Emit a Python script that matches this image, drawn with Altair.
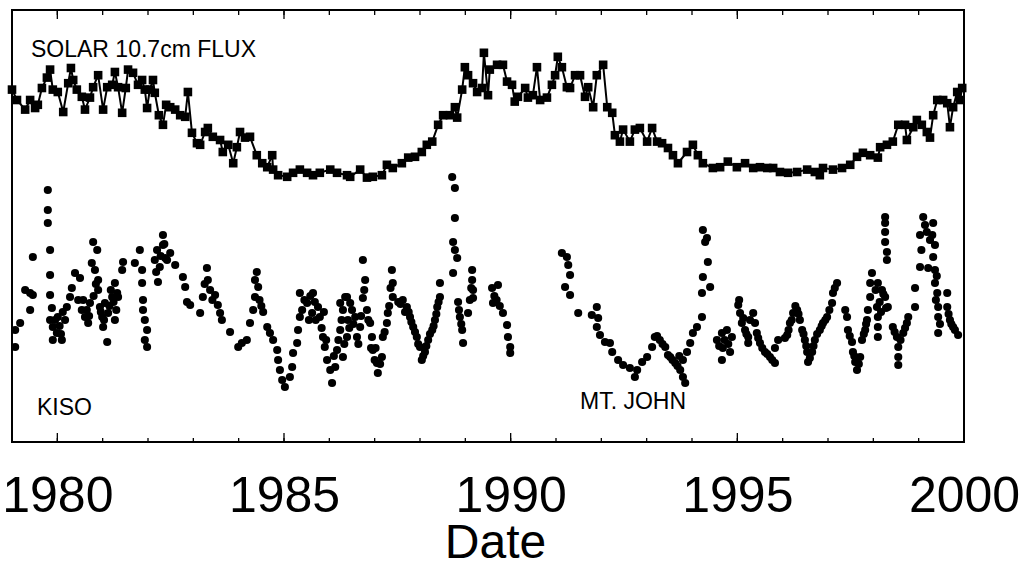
import altair as alt
import pandas as pd

# ---------------- data ----------------
flux_year = [
    1979.00, 1979.11, 1979.29, 1979.40, 1979.51, 1979.57, 1979.66, 1979.77, 1979.84, 1979.90,
    1980.01, 1980.13, 1980.24, 1980.30, 1980.35, 1980.43, 1980.54, 1980.61, 1980.72, 1980.79, 1980.90,
    1981.01, 1981.10, 1981.21, 1981.27, 1981.34, 1981.43, 1981.51, 1981.56, 1981.67, 1981.78, 1981.87, 1981.93, 1981.98,
    1982.04, 1982.11, 1982.15, 1982.24, 1982.33, 1982.40, 1982.49, 1982.60, 1982.71, 1982.82, 1982.88, 1982.97,
    1983.08, 1983.15, 1983.26, 1983.32, 1983.43, 1983.59, 1983.65, 1983.77, 1983.88, 1983.96,
    1984.03, 1984.14, 1984.25, 1984.40, 1984.52, 1984.63, 1984.74, 1984.76, 1984.87,
    1985.07, 1985.20, 1985.35, 1985.51, 1985.64, 1985.79,
    1986.02, 1986.17, 1986.39, 1986.46, 1986.68, 1986.83, 1986.96,
    1987.16, 1987.27, 1987.40, 1987.60, 1987.74, 1987.89,
    1988.04, 1988.15, 1988.27, 1988.40, 1988.51, 1988.66, 1988.77, 1988.82, 1988.93, 1988.99,
    1989.06, 1989.17, 1989.26, 1989.37, 1989.41, 1989.50, 1989.54, 1989.70, 1989.83, 1989.92,
    1990.03, 1990.09, 1990.16, 1990.32, 1990.38, 1990.49, 1990.58, 1990.65, 1990.80, 1990.91, 1990.98,
    1991.04, 1991.13, 1991.24, 1991.31, 1991.42, 1991.53, 1991.64, 1991.71, 1991.82, 1991.90,
    1992.04, 1992.13, 1992.24, 1992.30, 1992.41, 1992.48, 1992.63, 1992.74, 1992.85,
    1993.01, 1993.12, 1993.23, 1993.34, 1993.47, 1993.58, 1993.69, 1993.89,
    1994.02, 1994.13, 1994.24, 1994.46, 1994.62, 1994.79, 1994.99,
    1995.17, 1995.35, 1995.50, 1995.66, 1995.79, 1995.94,
    1996.12, 1996.32, 1996.54, 1996.71, 1996.82, 1996.89,
    1997.11, 1997.31, 1997.49, 1997.64, 1997.77, 1997.93,
    1998.10, 1998.15, 1998.30, 1998.43, 1998.55, 1998.70, 1998.74, 1998.88, 1998.96,
    1999.07, 1999.18, 1999.25, 1999.32, 1999.41, 1999.54, 1999.63, 1999.69, 1999.76, 1999.85, 1999.91, 1999.96,
]
flux_sfu = [
    178, 165, 153, 165, 155, 159, 180, 193, 203, 178,
    175, 150, 186, 205, 190, 178, 169, 153, 168, 181, 196,
    153, 181, 184, 200, 181, 149, 180, 203, 199, 184, 190, 178, 155,
    178, 190, 174, 146, 134, 159, 156, 153, 146, 144, 175, 124,
    111, 109, 125, 130, 119, 115, 100, 109, 86, 106,
    125, 118, 119, 96, 86, 81, 96, 78, 71,
    69, 74, 78, 74, 71, 74,
    78, 74, 71, 69, 78, 68, 69,
    71, 84, 80, 86, 93, 94,
    100, 109, 113, 134, 146, 146, 156, 143, 178, 206,
    196, 186, 175, 180, 224, 171, 203, 209, 209, 188,
    184, 163, 169, 180, 168, 171, 206, 165, 168, 184, 196,
    219, 206, 181, 180, 196, 196, 169, 181, 156, 196,
    209, 156, 149, 121, 113, 128, 113, 128, 130,
    113, 130, 113, 111, 105, 96, 86, 100,
    109, 96, 86, 80, 81, 88, 81,
    86, 80, 81, 80, 80, 75,
    74, 75, 78, 75, 71, 80,
    78, 80, 84, 94, 99, 96,
    93, 106, 109, 113, 134, 134, 115, 131, 140,
    134, 125, 118, 146, 165, 165, 161, 131, 156, 175, 165, 180,
]

# sky brightness (relative units): (year, value)
kiso_points = [
    (1979.07, 35), (1979.07, 26.5), (1979.18, 38.5), (1979.29, 55), (1979.40, 53.5), (1979.46, 52.5),
    (1979.40, 45), (1979.46, 71.5), (1979.79, 105), (1979.79, 95), (1979.79, 88.5), (1979.84, 75),
    (1979.84, 62.5), (1979.84, 52.5), (1979.88, 46), (1979.84, 40), (1979.90, 36.5), (1979.99, 33.5),
    (1980.10, 30), (1980.01, 41.5), (1980.17, 40), (1980.21, 46.5), (1980.28, 51.5), (1980.32, 56),
    (1980.39, 63.5), (1980.50, 61), (1980.46, 50), (1980.54, 45), (1980.61, 41.5), (1980.68, 38.5),
    (1980.72, 48.5), (1980.76, 68.5), (1980.79, 79), (1980.88, 75), (1980.83, 65), (1980.90, 60),
    (1980.90, 55), (1980.94, 46.5), (1980.99, 41.5), (1981.01, 36.5), (1981.10, 29), (1981.05, 48.5),
    (1981.12, 43.5), (1981.21, 51.5), (1981.27, 58.5), (1981.32, 53.5), (1981.27, 40), (1981.34, 51.5),
    (1981.43, 65), (1981.45, 69), (1981.71, 68.5), (1981.82, 75), (1981.87, 65), (1981.87, 58.5),
    (1981.89, 50), (1981.89, 45), (1981.93, 40), (1981.98, 35), (1981.98, 26.5), (1981.93, 30),
    (1982.15, 70), (1982.20, 75), (1982.26, 66.5), (1982.22, 59), (1982.33, 82.5), (1982.33, 77.5),
    (1982.38, 71), (1982.49, 73.5), (1982.60, 67.5), (1982.77, 61.5), (1982.82, 56.5), (1982.86, 49),
    (1982.93, 47.5), (1983.15, 43.5), (1983.21, 51.5), (1983.30, 66), (1983.32, 60), (1983.37, 55),
    (1983.48, 52.5), (1983.54, 47.5), (1983.59, 43.5), (1983.63, 40), (1983.81, 34), (1983.99, 26.5),
    (1984.07, 28.5), (1984.18, 30), (1984.25, 38.5), (1984.32, 45), (1984.36, 51.5), (1984.36, 60),
    (1984.40, 64), (1984.43, 56.5), (1984.54, 44), (1984.63, 36.5), (1984.69, 33.5), (1984.76, 30),
    (1984.85, 25), (1984.87, 20), (1984.91, 15), (1984.96, 10), (1985.02, 6.5), (1985.13, 11.5),
    (1985.18, 16.5), (1985.20, 23.5), (1985.29, 28.5), (1985.31, 35), (1985.35, 41.5), (1985.35, 53.5),
    (1985.51, 48.5), (1985.62, 43.5), (1985.64, 53.5), (1985.75, 46.5), (1985.79, 41.5), (1985.86, 31.5),
    (1985.90, 26.5), (1985.95, 20), (1986.02, 15), (1986.06, 8.5), (1986.13, 16.5), (1986.17, 25),
    (1986.24, 35), (1986.30, 45), (1986.39, 51.5), (1986.24, 48.5), (1986.35, 51.5), (1986.46, 48.5),
    (1986.41, 40), (1986.39, 31.5), (1986.30, 21.5), (1986.57, 41.5), (1986.61, 31.5), (1986.68, 36.5),
    (1986.74, 51), (1986.74, 70), (1986.79, 60), (1986.83, 45), (1986.90, 38.5), (1986.94, 31.5),
    (1986.96, 25), (1987.05, 18.5), (1987.07, 13.5), (1987.16, 21.5), (1987.18, 31.5), (1987.27, 38.5),
    (1987.29, 43.5), (1987.38, 65), (1987.40, 58.5), (1987.40, 51.5), (1987.52, 49), (1987.71, 46.5),
    (1987.78, 41.5), (1987.85, 36.5), (1987.93, 31.5), (1988.00, 26.5), (1988.04, 20), (1988.11, 24),
    (1988.18, 30), (1988.27, 35), (1988.33, 40), (1988.38, 46.5), (1988.44, 51.5), (1988.44, 58.5),
    (1988.71, 111.5), (1988.77, 106), (1988.77, 91), (1988.73, 79), (1988.77, 75), (1988.82, 71),
    (1988.73, 63.5), (1988.84, 49), (1988.88, 41.5), (1988.93, 35), (1988.95, 28.5), (1989.06, 43.5),
    (1989.15, 65), (1989.15, 60), (1989.17, 55), (1989.17, 51), (1989.59, 56), (1989.61, 48.5),
    (1989.72, 57.5), (1989.83, 43.5), (1989.92, 37.5), (1989.94, 31.5), (1989.99, 26.5), (1989.99, 23.5),
    # denser clusters
    (1979.90, 30), (1979.95, 40), (1980.05, 37), (1980.08, 33), (1980.12, 44),
    (1980.57, 50), (1980.65, 45), (1980.70, 42), (1980.80, 52), (1980.85, 58), (1980.96, 44), (1981.03, 40),
    (1981.15, 47), (1981.18, 55), (1981.24, 49), (1981.30, 45),
    (1982.18, 64), (1982.28, 72), (1982.36, 78), (1982.42, 70),
    (1983.25, 58), (1983.42, 50), (1984.46, 50), (1984.50, 47),
    (1985.40, 45), (1985.45, 50), (1985.55, 40), (1985.58, 52), (1985.68, 49), (1985.70, 40),
    (1985.83, 36), (1985.88, 44), (1985.93, 30),
    (1986.10, 22), (1986.20, 30), (1986.27, 40), (1986.33, 28), (1986.44, 36), (1986.50, 45), (1986.53, 38),
    (1986.64, 28), (1986.70, 42), (1986.77, 55), (1986.86, 40), (1986.92, 26), (1987.00, 20), (1987.02, 26),
    (1987.12, 18), (1987.22, 34), (1987.32, 47), (1987.35, 56),
    (1987.57, 48), (1987.62, 50), (1987.67, 44), (1987.75, 44), (1987.81, 39), (1987.89, 34),
    (1987.96, 28), (1988.07, 22), (1988.14, 27), (1988.22, 33), (1988.30, 37), (1988.36, 43), (1988.41, 49),
    (1988.86, 45), (1988.91, 38), (1989.10, 50), (1989.13, 56),
    (1989.64, 52), (1989.69, 50), (1989.76, 47),
]

john_points = [
    (1991.13, 73.5), (1991.24, 71.5), (1991.27, 67.5), (1991.31, 62.5), (1991.20, 56.5), (1991.31, 52.5),
    (1991.49, 43.5), (1991.79, 42.5), (1991.90, 46.5), (1991.93, 41), (1991.90, 36.5), (1991.97, 32.5),
    (1992.08, 29), (1992.19, 28.5), (1992.24, 24), (1992.37, 20), (1992.48, 17.5), (1992.63, 16),
    (1992.74, 11.5), (1992.79, 15), (1992.90, 19), (1993.01, 21.5), (1993.12, 26.5), (1993.18, 31.5),
    (1993.29, 30), (1993.41, 26.5), (1993.47, 22.5), (1993.52, 21.5), (1993.63, 18.5), (1993.74, 15),
    (1993.80, 11.5), (1993.85, 8.5), (1993.80, 20), (1993.89, 24), (1993.96, 28.5), (1994.02, 33.5),
    (1994.11, 36.5), (1994.22, 41.5), (1994.22, 53.5), (1994.40, 56.5), (1994.24, 61.5), (1994.35, 69),
    (1994.29, 79), (1994.33, 81), (1994.24, 85), (1994.55, 30), (1994.66, 33.5), (1994.77, 35),
    (1994.88, 31.5), (1994.68, 26), (1994.66, 20), (1994.84, 24), (1995.02, 47.5), (1995.06, 43.5),
    (1995.10, 38.5), (1995.17, 35), (1995.24, 31.5), (1995.24, 28.5), (1995.35, 43.5), (1995.39, 38.5),
    (1995.43, 33.5), (1995.50, 28.5), (1995.61, 24), (1995.72, 21.5), (1995.83, 18.5), (1995.83, 26),
    (1995.90, 30), (1996.10, 32.5), (1996.16, 38.5), (1996.23, 43.5), (1996.32, 45), (1996.38, 40),
    (1996.43, 35), (1996.49, 30), (1996.54, 24), (1996.56, 19), (1996.65, 24), (1996.71, 30),
    (1996.82, 35), (1996.89, 38.5), (1996.98, 41.5), (1997.09, 48.5), (1997.11, 53.5), (1997.20, 58.5),
    (1997.38, 45), (1997.42, 41.5), (1997.44, 35), (1997.53, 29), (1997.55, 24), (1997.60, 19),
    (1997.64, 15), (1997.71, 21.5), (1997.75, 30), (1997.82, 35), (1997.86, 40), (1997.88, 45),
    (1997.93, 51.5), (1997.93, 58.5), (1997.97, 63.5), (1998.10, 58.5), (1998.19, 55), (1998.26, 51.5),
    (1998.08, 46.5), (1998.10, 41.5), (1998.10, 36.5), (1998.10, 31.5), (1998.32, 46.5), (1998.26, 91.5),
    (1998.26, 88.5), (1998.26, 84), (1998.26, 79), (1998.30, 74), (1998.30, 70), (1998.43, 36.5),
    (1998.52, 31.5), (1998.55, 26.5), (1998.55, 21.5), (1998.55, 17.5), (1998.66, 33.5), (1998.74, 38.5),
    (1998.77, 41.5), (1998.92, 46.5), (1998.92, 56), (1999.03, 66.5), (1999.10, 91.5), (1999.14, 87.5),
    (1999.03, 82.5), (1999.30, 82.5), (1999.32, 88.5), (1999.36, 77.5), (1999.32, 71.5), (1999.21, 66),
    (1999.36, 65), (1999.36, 58.5), (1999.41, 53.5), (1999.43, 46.5), (1999.43, 41.5), (1999.43, 33.5),
    (1999.63, 53.5), (1999.63, 46.5), (1999.69, 40), (1999.76, 36.5), (1999.87, 32.5),
    # denser clusters
    (1993.23, 32), (1993.35, 28), (1993.57, 20), (1993.68, 17), (1993.72, 22),
    (1994.60, 27), (1994.72, 30), (1994.80, 28),
    (1995.04, 50), (1995.13, 41), (1995.20, 33), (1995.28, 40),
    (1995.46, 31), (1995.55, 26), (1995.66, 23), (1995.77, 20),
    (1996.05, 31), (1996.13, 35), (1996.20, 40), (1996.28, 47), (1996.35, 43), (1996.46, 33), (1996.52, 27),
    (1996.60, 21), (1996.68, 27), (1996.76, 33), (1996.86, 37), (1996.94, 40), (1997.03, 45), (1997.15, 56),
    (1997.48, 32), (1997.58, 22), (1997.68, 18), (1997.79, 33), (1997.84, 38),
    (1998.05, 55), (1998.14, 49), (1998.17, 44), (1998.22, 53), (1998.28, 46),
    (1998.47, 34), (1998.60, 30), (1998.70, 36),
    (1999.06, 75), (1999.18, 84), (1999.25, 80), (1999.40, 62), (1999.38, 50), (1999.47, 38),
    (1999.66, 43), (1999.72, 38), (1999.80, 35),
]

minor_tick_years = list(range(1979, 2000))
major_tick_years = [1980, 1985, 1990, 1995]
axis_label_years = [1980, 1985, 1990, 1995, 2000]

panel_labels = ["SOLAR 10.7cm FLUX", "KISO", "MT. JOHN"]

# ---------------- tables ----------------
flux_df = pd.DataFrame({"year": flux_year, "flux": flux_sfu})
sky_df = pd.DataFrame(
    [(y, v, "KISO") for y, v in kiso_points] + [(y, v, "MT. JOHN") for y, v in john_points],
    columns=["year", "sky", "site"],
)
minor_df = pd.DataFrame({"year": minor_tick_years})
major_df = pd.DataFrame({"year": major_tick_years})

W, H = 952, 432
SANS = "Liberation Sans, Arial, Helvetica, sans-serif"

xscale = alt.Scale(domain=[1979, 2000], nice=False, zero=False)

x_axis = alt.Axis(
    values=axis_label_years, format="d", ticks=False, tickSize=0, domain=False, grid=False,
    labelFont=SANS, labelFontSize=50, labelColor="black", labelBaseline="alphabetic",
    labelPadding=69, labelFlush=False, labelOverlap=False,
    title="Date", titleFont=SANS, titleFontSize=48, titleColor="black",
    titleFontWeight="normal", titleBaseline="alphabetic", titleY=115, titleX=483,
)
X = alt.X("year:Q", scale=xscale, axis=x_axis)
flux_y = alt.Y("flux:Q", scale=alt.Scale(domain=[-262.5, 277.5], nice=False, zero=False), axis=None)
sky_y = alt.Y("sky:Q", scale=alt.Scale(domain=[-21, 195], nice=False, zero=False), axis=None)

flux_line = alt.Chart(flux_df).mark_line(color="black", strokeWidth=2).encode(
    x=X, y=flux_y, order="year:Q",
)
flux_pts = alt.Chart(flux_df).mark_point(
    shape="square", filled=True, color="black", size=74, opacity=1
).encode(x=X, y=flux_y)
sky_pts = alt.Chart(sky_df).mark_circle(color="black", size=66, opacity=1).encode(x=X, y=sky_y)

def ticks(df, y0, y1):
    return alt.Chart(df).mark_rule(color="black", strokeWidth=1.3).encode(
        x=X, y=alt.value(y0), y2=alt.value(y1),
    )

tick_layers = [
    ticks(minor_df, H, H - 4), ticks(major_df, H, H - 9),
    ticks(minor_df, 0, 5), ticks(major_df, 0, 9),
]

def label(text, x, y):
    return alt.Chart(pd.DataFrame({"t": [text]})).mark_text(
        font=SANS, fontSize=23, color="black", align="left", baseline="alphabetic"
    ).encode(text="t:N", x=alt.value(x), y=alt.value(y))

labels = [
    label(panel_labels[0], 19, 47),
    label(panel_labels[1], 25, 405),
    label(panel_labels[2], 568, 399),
]

chart = alt.layer(flux_line, flux_pts, sky_pts, *tick_layers, *labels).resolve_scale(
    y="independent"
).properties(
    width=W, height=H,
    autosize=alt.AutoSizeParams(type="none"),
    padding={"left": 12, "top": 10, "right": 61, "bottom": 121},
    background="white",
).configure_view(stroke="black", strokeWidth=2)

chart.save("out.html", embed_options={"renderer": "svg", "actions": False})
